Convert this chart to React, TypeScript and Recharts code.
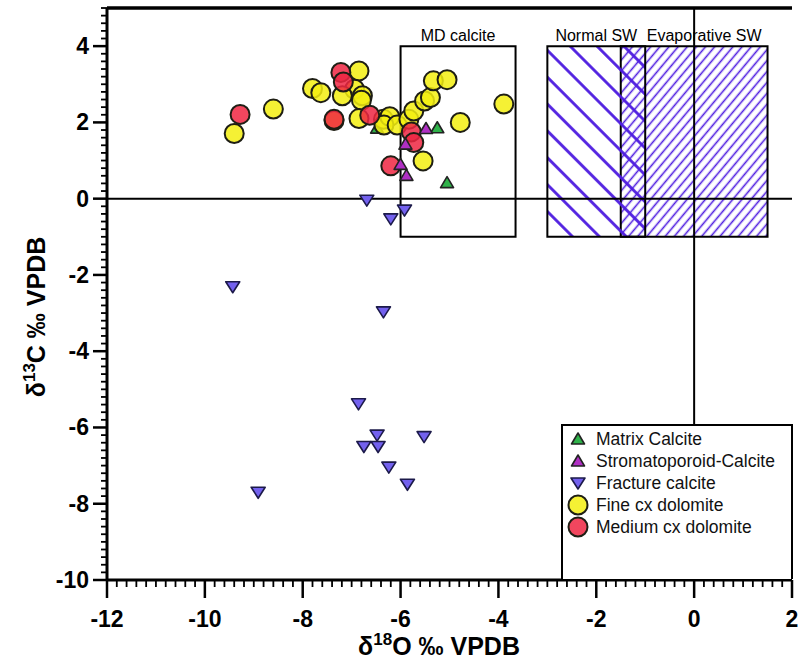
import React from 'react';
import { ScatterChart, Scatter, XAxis, YAxis, ReferenceArea, ReferenceLine } from 'recharts';

type Pt = { x: number; y: number };

// δ18O (x) / δ13C (y) pairs, ‰ VPDB
const matrixCalcite: Pt[] = [
  { x: -6.48, y: 1.85 },
  { x: -5.25, y: 1.86 },
  { x: -5.05, y: 0.42 },
];

const stromatoporoidCalcite: Pt[] = [
  { x: -5.48, y: 1.84 },
  { x: -5.9, y: 1.43 },
  { x: -6.0, y: 0.9 },
  { x: -5.88, y: 0.61 },
];

const fractureCalcite: Pt[] = [
  { x: -6.69, y: -0.04 },
  { x: -6.2, y: -0.53 },
  { x: -5.92, y: -0.3 },
  { x: -9.43, y: -2.31 },
  { x: -6.35, y: -2.97 },
  { x: -6.86, y: -5.38 },
  { x: -6.48, y: -6.2 },
  { x: -6.75, y: -6.5 },
  { x: -6.46, y: -6.5 },
  { x: -5.52, y: -6.24 },
  { x: -6.24, y: -7.04 },
  { x: -5.86, y: -7.49 },
  { x: -8.91, y: -7.7 },
];

const fineDolomite: Pt[] = [
  { x: -9.4, y: 1.71 },
  { x: -8.6, y: 2.35 },
  { x: -7.8, y: 2.89 },
  { x: -7.63, y: 2.78 },
  { x: -6.85, y: 3.35 },
  { x: -6.94, y: 2.87 },
  { x: -7.19, y: 2.7 },
  { x: -6.78, y: 2.7 },
  { x: -6.8, y: 2.58 },
  { x: -6.85, y: 2.1 },
  { x: -7.36, y: 2.05 },
  { x: -6.35, y: 2.08 },
  { x: -6.22, y: 2.15 },
  { x: -6.34, y: 1.93 },
  { x: -6.07, y: 1.93 },
  { x: -5.83, y: 2.08 },
  { x: -5.73, y: 2.3 },
  { x: -5.51, y: 2.56 },
  { x: -5.39, y: 2.65 },
  { x: -5.33, y: 3.09 },
  { x: -5.05, y: 3.12 },
  { x: -3.89, y: 2.48 },
  { x: -4.78, y: 2.0 },
  { x: -5.54, y: 0.99 },
];

const mediumDolomite: Pt[] = [
  { x: -9.28, y: 2.21 },
  { x: -7.22, y: 3.31 },
  { x: -7.17, y: 3.06 },
  { x: -7.36, y: 2.08 },
  { x: -6.63, y: 2.19 },
  { x: -5.78, y: 1.75 },
  { x: -5.73, y: 1.47 },
  { x: -6.2, y: 0.86 },
];

// field boxes: [x1, x2, y1, y2]
const mdCalciteBox = [-6, -3.65, -1, 4];
const normalSwBox = [-3, -1, -1, 4];
const evaporativeSwBox = [-1.5, 1.5, -1, 4];

const xDomain = [-12, 2];
const yDomain = [-10, 5];
const xMajorTicks = [-12, -10, -8, -6, -4, -2, 0, 2];
const yMajorTicks = [-10, -8, -6, -4, -2, 0, 2, 4];

const FONT = '"Liberation Sans", Arial, Helvetica, sans-serif';
const HATCH = '#4f1ee0';

// minor ticks every 0.2 between the domain ends
const minorTicks = (lo: number, hi: number) =>
  Array.from({ length: Math.round((hi - lo) / 0.2) + 1 }, (_, i) => Math.round((lo + i * 0.2) * 10) / 10);

const XTick = (props: any) => {
  const { x, y, payload } = props;
  const major = xMajorTicks.includes(payload.value);
  return (
    <g>
      <line x1={x} y1={y} x2={x} y2={y + (major ? 18 : 7)} stroke="#000" strokeWidth={major ? 2.5 : 1.8} />
      {major && (
        <text x={x} y={y + 47} textAnchor="middle" fontSize={23} fontWeight="bold" fontFamily={FONT} fill="#000">
          {payload.value}
        </text>
      )}
    </g>
  );
};

const YTick = (props: any) => {
  const { x, y, payload } = props;
  const major = yMajorTicks.includes(payload.value);
  return (
    <g>
      <line x1={x - (major ? 14 : 6)} y1={y} x2={x} y2={y} stroke="#000" strokeWidth={major ? 2.5 : 1.8} />
      {major && (
        <text x={x - 18} y={y + 8} textAnchor="end" fontSize={23} fontWeight="bold" fontFamily={FONT} fill="#000">
          {payload.value}
        </text>
      )}
    </g>
  );
};

const CircleDot = (props: any) => {
  const { cx, cy, fill } = props;
  return <circle cx={cx} cy={cy} r={9.5} fill={fill} fillOpacity={0.85} stroke="#1e1e14" strokeWidth={2} />;
};

const UpTriangle = (props: any) => {
  const { cx, cy, fill } = props;
  return (
    <path
      d={`M${cx},${cy - 6} L${cx + 6.5},${cy + 5} L${cx - 6.5},${cy + 5} Z`}
      fill={fill}
      stroke="#222"
      strokeWidth={1.6}
      strokeLinejoin="round"
    />
  );
};

const DownTriangle = (props: any) => {
  const { cx, cy, fill } = props;
  return (
    <path
      d={`M${cx - 7},${cy - 5} L${cx + 7},${cy - 5} L${cx},${cy + 6} Z`}
      fill={fill}
      stroke="#1c1a4a"
      strokeWidth={1.6}
      strokeLinejoin="round"
    />
  );
};

const groups = [
  { name: 'Matrix Calcite', data: matrixCalcite, fill: '#2fb24a', shape: UpTriangle },
  { name: 'Stromatoporoid-Calcite', data: stromatoporoidCalcite, fill: '#b02fc4', shape: UpTriangle },
  { name: 'Fracture calcite', data: fractureCalcite, fill: '#7361ee', shape: DownTriangle },
  { name: 'Fine cx dolomite', data: fineDolomite, fill: '#f3ee10', shape: CircleDot },
  { name: 'Medium cx dolomite', data: mediumDolomite, fill: '#ef2642', shape: CircleDot },
];

// painting order of the series
const drawOrder = [0, 2, 3, 4, 1];

const boxLabel = (text: string, shift: number) => (props: any) => {
  const { x, y, width } = props.viewBox;
  return (
    <text x={x + width / 2 + shift} y={y - 5} textAnchor="middle" fontSize={16} fontFamily={FONT} fill="#000">
      {text}
    </text>
  );
};

const LegendIcon = ({ shape: Shape, fill }: any) => (
  <svg width={26} height={22} style={{ display: 'block' }}>
    <Shape cx={13} cy={11} fill={fill} />
  </svg>
);

export default function App() {
  return (
    <div style={{ position: 'absolute', left: 0, top: 0, width: 798, height: 662, background: '#fff' }}>
      <ScatterChart width={798} height={662} margin={{ top: 8, right: 6, bottom: 0, left: 0 }}>
        <defs>
          {/* hatch lines sit mid-tile so the stroke is not cut at the tile edge */}
          <pattern id="normalHatch" patternUnits="userSpaceOnUse" width={19} height={19} patternTransform="rotate(-45)">
            <line x1={9.5} y1={0} x2={9.5} y2={19} stroke={HATCH} strokeWidth={2.8} />
          </pattern>
          <pattern id="evapHatch" patternUnits="userSpaceOnUse" width={7} height={7} patternTransform="rotate(40)">
            <line x1={3.5} y1={0} x2={3.5} y2={7} stroke={HATCH} strokeWidth={1.6} />
          </pattern>
        </defs>
        <XAxis
          type="number"
          dataKey="x"
          domain={xDomain}
          ticks={minorTicks(xDomain[0], xDomain[1])}
          interval={0}
          allowDataOverflow
          height={82}
          tickSize={0}
          tickMargin={0}
          tick={<XTick />}
          axisLine={{ stroke: '#000', strokeWidth: 3 }}
        />
        <YAxis
          type="number"
          dataKey="y"
          domain={yDomain}
          ticks={minorTicks(yDomain[0], yDomain[1])}
          interval={0}
          allowDataOverflow
          width={107}
          tickSize={0}
          tickMargin={0}
          tick={<YTick />}
          axisLine={{ stroke: '#000', strokeWidth: 3 }}
        />
        <ReferenceArea
          x1={mdCalciteBox[0]}
          x2={mdCalciteBox[1]}
          y1={mdCalciteBox[2]}
          y2={mdCalciteBox[3]}
          fill="none"
          stroke="#000"
          strokeWidth={2}
          label={{ content: boxLabel('MD calcite', 0) }}
        />
        <ReferenceArea
          x1={evaporativeSwBox[0]}
          x2={evaporativeSwBox[1]}
          y1={evaporativeSwBox[2]}
          y2={evaporativeSwBox[3]}
          fill="url(#evapHatch)"
          fillOpacity={1}
          stroke="#000"
          strokeWidth={2}
          label={{ content: boxLabel('Evaporative SW', 10) }}
        />
        <ReferenceArea
          x1={normalSwBox[0]}
          x2={normalSwBox[1]}
          y1={normalSwBox[2]}
          y2={normalSwBox[3]}
          fill="url(#normalHatch)"
          fillOpacity={1}
          stroke="#000"
          strokeWidth={2}
          label={{ content: boxLabel('Normal SW', 0) }}
        />
        <ReferenceLine y={0} stroke="#000" strokeWidth={2} />
        <ReferenceLine x={0} stroke="#000" strokeWidth={2} />
        {/* heavy top frame line */}
        <ReferenceLine y={yDomain[1]} stroke="#000" strokeWidth={3.5} ifOverflow="visible" />
        {drawOrder.map((i) => (
          <Scatter
            key={groups[i].name}
            name={groups[i].name}
            data={groups[i].data}
            fill={groups[i].fill}
            shape={groups[i].shape}
            isAnimationActive={false}
          />
        ))}
        <text
          x={439}
          y={655}
          textAnchor="middle"
          fontSize={25}
          fontWeight="bold"
          fontFamily={FONT}
          fill="#000"
        >
          δ<tspan dy={-10} fontSize={17}>18</tspan>
          <tspan dy={10}>O ‰ VPDB</tspan>
        </text>
        <text
          transform="translate(45 317) rotate(-90)"
          textAnchor="middle"
          fontSize={25}
          fontWeight="bold"
          fontFamily={FONT}
          fill="#000"
        >
          δ<tspan dy={-10} fontSize={17}>13</tspan>
          <tspan dy={10}>C ‰ VPDB</tspan>
        </text>
      </ScatterChart>
      <div
        style={{
          position: 'absolute',
          left: 561,
          top: 424,
          width: 232,
          height: 155,
          boxSizing: 'border-box',
          border: '2px solid #000',
          borderBottom: 'none',
          background: '#fff',
          paddingTop: 2,
          fontFamily: FONT,
          fontSize: 17.5,
          color: '#111',
        }}
      >
        {groups.map((g) => (
          <div key={g.name} style={{ display: 'flex', alignItems: 'center', height: 22 }}>
            <div style={{ marginLeft: 2 }}>
              <LegendIcon shape={g.shape} fill={g.fill} />
            </div>
            <span style={{ marginLeft: 5, whiteSpace: 'nowrap' }}>{g.name}</span>
          </div>
        ))}
      </div>
    </div>
  );
}
